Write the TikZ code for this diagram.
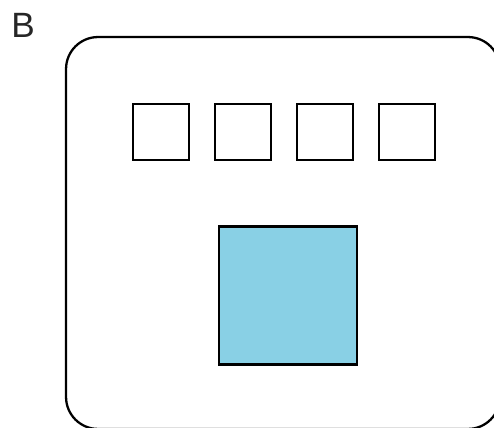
\documentclass[tikz,border=0pt]{standalone}
\usepackage{fontspec}
\setmainfont{Liberation Sans}
\usetikzlibrary{positioning}
\definecolor{coreblue}{RGB}{137,208,229}

\begin{document}
\begin{tikzpicture}[
  x=0.02cm, y=-0.02cm,
  node distance=5.2mm,
  frame/.style={
    draw,
    line width=1.3pt,
    rounded corners=6.4mm,
    minimum width=8.68cm,
    minimum height=7.84cm
  },
  slot/.style={
    draw,
    line width=1.6pt,
    outer sep=0pt,
    inner sep=0pt,
    minimum size=11.2mm
  },
  core/.style={
    slot,
    line width=1.4pt,
    fill=coreblue,
    minimum size=2.76cm
  },
  panel/.style={
    font=\fontsize{20}{24}\selectfont,
    text=black!85,
    inner sep=0pt
  }
]
\useasboundingbox (0,0) rectangle (494,428);
\clip (0,0) rectangle (494,428);

% Panel label
\node[panel] (label) at (23,25) {B};

% Outer frame
\node[frame] (frame) at (283,233) {};

% Row of slots
\node[slot] (s1) at (161,132) {};
\node[slot, right=of s1] (s2) {};
\node[slot, right=of s2] (s3) {};
\node[slot, right=of s3] (s4) {};

% Central block
\node[core] (core) at (288,295.5) {};

\end{tikzpicture}
\end{document}
